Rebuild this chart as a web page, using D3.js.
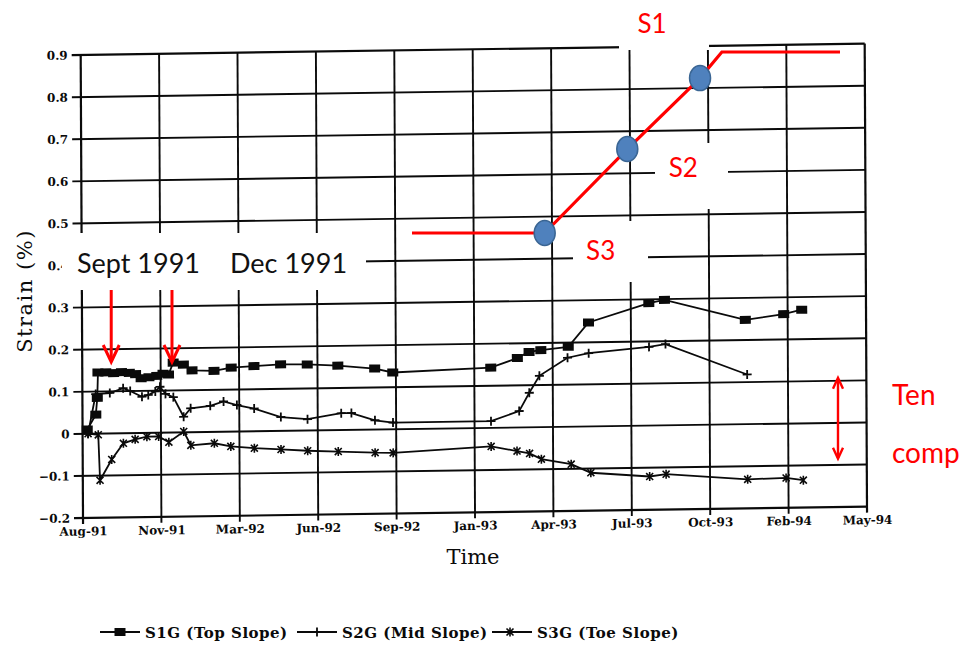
<!DOCTYPE html>
<html>
<head>
<meta charset="utf-8">
<script src="https://cdn.jsdelivr.net/npm/d3@7"></script>
<style>
  html, body { margin: 0; padding: 0; background: #fff; }
  svg { display: block; }
</style>
</head>
<body>
<svg id="chart" width="965" height="649"></svg>
<script>
// ---- data -------------------------------------------------------------
// x positions are in axis-tick units (0 = Aug-91 ... 10 = May-94), y in strain %
const tickLabels = ["Aug-91", "Nov-91", "Mar-92", "Jun-92", "Sep-92", "Jan-93",
                    "Apr-93", "Jul-93", "Oct-93", "Feb-94", "May-94"];
const yTicks = [-0.2, -0.1, 0, 0.1, 0.2, 0.3, 0.4, 0.5, 0.6, 0.7, 0.8, 0.9];

const s1g = [[0.06,0.01],[0.17,0.045],[0.19,0.085],[0.20,0.145],[0.30,0.145],[0.40,0.143],
  [0.50,0.145],[0.60,0.143],[0.68,0.14],[0.75,0.13],[0.85,0.132],[0.95,0.135],[1.03,0.14],
  [1.10,0.138],[1.16,0.166],[1.29,0.161],[1.40,0.147],[1.68,0.145],[1.90,0.152],[2.19,0.155],
  [2.53,0.158],[2.87,0.157],[3.26,0.153],[3.73,0.145],[3.96,0.135],[5.21,0.143],[5.55,0.165],
  [5.70,0.179],[5.85,0.183],[6.20,0.190],[6.46,0.247],[7.23,0.291],[7.43,0.298],[8.46,0.248],
  [8.95,0.260],[9.18,0.270]];

const s2g = [[0.07,0.0],[0.17,0.094],[0.35,0.096],[0.52,0.107],[0.61,0.10],[0.76,0.086],
  [0.84,0.09],[0.93,0.098],[0.99,0.109],[1.06,0.092],[1.16,0.084],[1.29,0.037],[1.38,0.057],
  [1.63,0.062],[1.80,0.072],[1.97,0.063],[2.19,0.054],[2.53,0.033],[2.87,0.027],[3.30,0.04],
  [3.43,0.04],[3.73,0.022],[3.96,0.016],[5.21,0.016],[5.57,0.039],[5.70,0.082],[5.83,0.122],
  [6.19,0.164],[6.46,0.174],[7.23,0.187],[7.44,0.193],[8.48,0.118]];

const s3g = [[0.07,0.0],[0.20,-0.003],[0.22,-0.111],[0.37,-0.062],[0.52,-0.024],[0.67,-0.015],
  [0.82,-0.009],[0.97,-0.009],[1.10,-0.023],[1.29,0.002],[1.38,-0.031],[1.68,-0.027],
  [1.89,-0.035],[2.19,-0.04],[2.53,-0.044],[2.87,-0.048],[3.26,-0.051],[3.73,-0.055],
  [3.96,-0.056],[5.21,-0.044],[5.54,-0.056],[5.70,-0.062],[5.85,-0.076],[6.23,-0.089],
  [6.48,-0.110],[7.23,-0.121],[7.44,-0.116],[8.48,-0.131],[8.97,-0.129],[9.19,-0.135]];

const seriesNames = ["S1G (Top Slope)", "S2G (Mid Slope)", "S3G (Toe Slope)"];

// event dates marked with arrows (tick units) and their captions
const eventDates = [0.36, 1.135];
const eventLabels = ["Sept 1991", "Dec 1991"];

// schematic slope profile: distance along slope vs. relative height, gauges on it
const profile = [[0, 0], [3.1, 0], [5.03, 0.464], [6.73, 0.856], [7.24, 1], [10, 1]];
const gauges = [{ name: "S3", at: 1 }, { name: "S2", at: 2 }, { name: "S1", at: 3 }];

// tension / compression range marker (strain %)
const tenCompRange = [0.107, -0.085];
const tenCompAt = 9.63;

// ---- drawing ----------------------------------------------------------
const svg = d3.select("#chart");
const INK = "#0a0a0a";

const x = d3.scaleLinear().domain([0, 10]).range([83, 867]);
const y = d3.scaleLinear().domain([-0.2, 0.9]).range([518, 55]);

// the plotted sheet sits slightly askew
const skB = -0.0145, skC = 0.005, px0 = 82, py0 = 518;
const sheet = svg.append("g")
  .attr("transform", `matrix(1,${skB},${skC},1,${-skC * py0},${-skB * px0})`);

// horizontal grid lines
sheet.append("g").selectAll("line").data(yTicks).join("line")
  .attr("x1", x(0) - 9).attr("x2", x(10))
  .attr("y1", d => y(d)).attr("y2", d => y(d))
  .attr("stroke", INK).attr("stroke-width", d => (d === 0.9 || d === -0.2) ? 2.2 : 1.9);

// vertical grid lines (with tick stubs below the axis)
sheet.append("g").selectAll("line").data(d3.range(11)).join("line")
  .attr("x1", d => x(d)).attr("x2", d => x(d))
  .attr("y1", y(0.9)).attr("y2", y(-0.2) + 6)
  .attr("stroke", INK).attr("stroke-width", d => (d === 0 || d === 10) ? 2.2 : 1.9);

// axes (labels only; rules are drawn as grid)
const yAxis = d3.axisLeft(y).tickValues(yTicks).tickSize(0).tickPadding(13)
  .tickFormat(d => d === 0 ? "0" : d3.format(".1f")(d));
const gy = sheet.append("g").attr("transform", `translate(${x(0)},0)`).call(yAxis);
gy.select(".domain").remove();
gy.selectAll("text").attr("font-family", "DejaVu Serif").attr("font-weight", "bold")
  .attr("font-size", 12).attr("fill", INK);

const xAxis = d3.axisBottom(x).tickValues(d3.range(11)).tickSize(0).tickPadding(9)
  .tickFormat(i => tickLabels[i]);
const gx = sheet.append("g").attr("transform", `translate(0,${y(-0.2)})`).call(xAxis);
gx.select(".domain").remove();
gx.selectAll("text").attr("font-family", "DejaVu Serif").attr("font-weight", "bold")
  .attr("font-size", 12).attr("fill", INK);

// series
const line = d3.line().x(d => x(d[0])).y(d => y(d[1]));
const markers = {
  square: g => g.append("rect").attr("x", -5.5).attr("y", -4).attr("width", 11).attr("height", 8).attr("fill", INK),
  plus: g => g.append("path").attr("d", "M-4.5,0H4.5M0,-4.5V4.5").attr("stroke", INK).attr("stroke-width", 1.8).attr("fill", "none"),
  star: g => g.append("path").attr("d", "M-3.5,-3.5L3.5,3.5M-3.5,3.5L3.5,-3.5M0,-4.5V4.5").attr("stroke", INK).attr("stroke-width", 1.6).attr("fill", "none")
};
const series = [
  { data: s1g, marker: "square" },
  { data: s2g, marker: "plus" },
  { data: s3g, marker: "star" }
];
series.forEach(s => {
  sheet.append("path").datum(s.data).attr("d", line)
    .attr("fill", "none").attr("stroke", INK).attr("stroke-width", 1.8);
  sheet.append("g").selectAll("g").data(s.data).join("g")
    .attr("transform", d => `translate(${x(d[0])},${y(d[1])})`)
    .each(function () { markers[s.marker](d3.select(this)); });
});

// axis titles
svg.append("text").attr("x", 473).attr("y", 564).attr("text-anchor", "middle")
  .attr("font-family", "DejaVu Serif").attr("font-size", 21).attr("fill", INK).text("Time");
svg.append("text").attr("transform", "translate(32,291) rotate(-90)").attr("text-anchor", "middle")
  .attr("font-family", "DejaVu Serif").attr("font-size", 21).attr("letter-spacing", 1.5)
  .attr("fill", INK).text("Strain (%)");

// legend
const legendX = [100, 297, 492];
const legendG = svg.append("g").attr("transform", "translate(0,632)");
seriesNames.forEach((name, i) => {
  const g = legendG.append("g").attr("transform", `translate(${legendX[i]},0)`);
  g.append("line").attr("x1", 0).attr("x2", 40).attr("stroke", INK).attr("stroke-width", 1.8);
  const m = g.append("g").attr("transform", `translate(${i === 2 ? 18 : 20},0)`);
  markers[series[i].marker](m);
  g.append("text").attr("x", 45).attr("y", 5.5).attr("font-family", "DejaVu Serif")
    .attr("font-weight", "bold").attr("font-size", 15).attr("letter-spacing", 0.5)
    .attr("fill", INK).text(name);
});

// white cover boxes behind the overlaid notes
const covers = [[62, 233, 304, 57], [573, 221, 75, 61], [655, 143, 73, 66], [619, 0, 90, 50]];
svg.append("g").selectAll("rect").data(covers).join("rect")
  .attr("x", d => d[0]).attr("y", d => d[1]).attr("width", d => d[2]).attr("height", d => d[3])
  .attr("fill", "#fff");

// event captions and arrows
const note = svg.append("g");
note.selectAll("text.ev").data(eventLabels).join("text").attr("class", "ev")
  .attr("x", (d, i) => i === 0 ? 77 : 230).attr("y", 273)
  .attr("font-family", "Lato").attr("font-size", 27).attr("fill", "#111").text(d => d);

const RED = "#ff0000";
note.selectAll("g.arrow").data(eventDates).join("g").attr("class", "arrow")
  .attr("transform", d => `translate(${x(d)},0)`)
  .each(function () {
    const g = d3.select(this);
    g.append("line").attr("y1", 290).attr("y2", 361).attr("stroke", RED).attr("stroke-width", 3);
    g.append("path").attr("d", "M-8,345L0,362L8,345").attr("fill", "none")
      .attr("stroke", RED).attr("stroke-width", 3).attr("stroke-linejoin", "miter");
  });

// tension / compression marker
const tcTop = y(tenCompRange[0]) + skB * (x(tenCompAt) - px0);
const tcBot = y(tenCompRange[1]) + skB * (x(tenCompAt) - px0);
const tc = svg.append("g").attr("transform", `translate(${x(tenCompAt)},0)`);
tc.append("line").attr("y1", tcTop + 1).attr("y2", tcBot - 1).attr("stroke", RED).attr("stroke-width", 2.4);
tc.append("path").attr("d", `M-5,${tcTop + 11}L0,${tcTop}L5,${tcTop + 11}M-5,${tcBot - 11}L0,${tcBot}L5,${tcBot - 11}`)
  .attr("fill", "none").attr("stroke", RED).attr("stroke-width", 2.4);
svg.append("text").attr("x", 892).attr("y", 405).attr("font-family", "Lato").attr("font-size", 28)
  .attr("fill", RED).text("Ten");
svg.append("text").attr("x", 892).attr("y", 463).attr("font-family", "Lato").attr("font-size", 28)
  .attr("fill", RED).text("comp");

// slope profile with gauge positions
const sx = d3.scaleLinear().domain([0, 10]).range([412, 840]);
const sy = d3.scaleLinear().domain([0, 1]).range([233, 52]);
const prof = svg.append("g");
prof.append("path").datum(profile)
  .attr("d", d3.line().x(d => sx(d[0])).y(d => sy(d[1])))
  .attr("fill", "none").attr("stroke", RED).attr("stroke-width", 3.2);
const labelOffset = { S3: [56, 27], S2: [56, 28], S1: [-48, -45] };
gauges.forEach(gg => {
  const p = profile[gg.at];
  prof.append("ellipse").attr("cx", sx(p[0])).attr("cy", sy(p[1])).attr("rx", 10.5).attr("ry", 12.5)
    .attr("fill", "#4f81bd").attr("stroke", "#3a6593").attr("stroke-width", 1.5);
  prof.append("text").attr("x", sx(p[0]) + labelOffset[gg.name][0]).attr("y", sy(p[1]) + labelOffset[gg.name][1])
    .attr("text-anchor", "middle").attr("font-family", "Lato").attr("font-size", 26)
    .attr("fill", RED).text(gg.name);
});
</script>
</body>
</html>
